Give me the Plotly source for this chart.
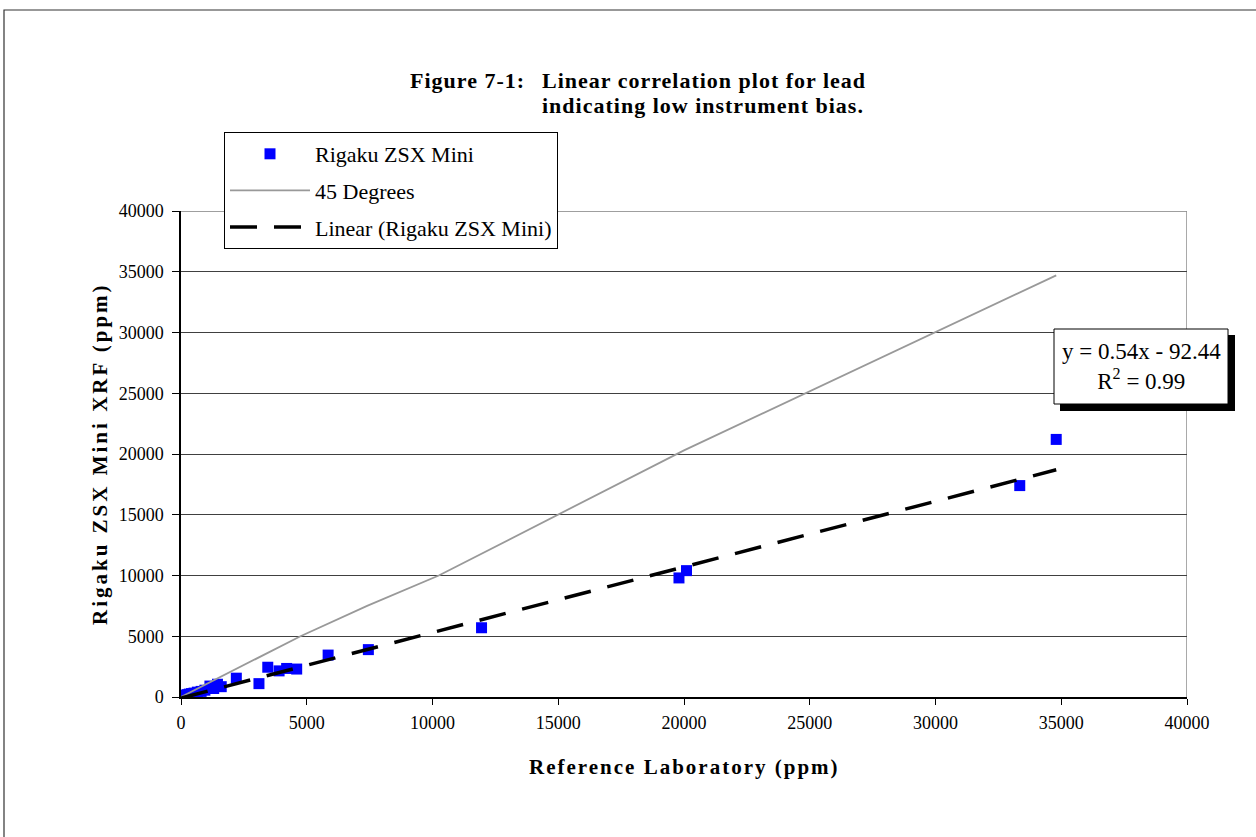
import plotly.graph_objects as go

# ---- data ----
ref_lab = [20, 60, 100, 150, 200, 260, 330, 420, 520, 650, 800, 950, 1150, 1300,
           1450, 1600, 2200, 3100, 3450, 3900, 4200, 4600, 5850, 7450, 11950,
           19800, 20100, 33350, 34800]
rigaku = [40, 90, 60, 130, 160, 190, 240, 280, 320, 400, 460, 560, 900, 700,
          1050, 850, 1550, 1100, 2450, 2150, 2350, 2300, 3450, 3900, 5700,
          9800, 10400, 17400, 21200]

deg45_x = [0, 4750, 7400, 10250, 20000, 34800]
deg45_y = [0, 5000, 7500, 10000, 20300, 34700]

slope = 0.54
intercept = -92.44
r_squared = 0.99

x_ticks = [0, 5000, 10000, 15000, 20000, 25000, 30000, 35000, 40000]
y_ticks = [0, 5000, 10000, 15000, 20000, 25000, 30000, 35000, 40000]

FONT = "Liberation Serif, Times New Roman, serif"
GRID = "#404040"

trend_x = [min(ref_lab), max(ref_lab)]
trend_y = [slope * v + intercept for v in trend_x]

fig = go.Figure()
fig.add_trace(go.Scatter(x=ref_lab, y=rigaku, mode="markers", name="Rigaku ZSX Mini",
                         legendgroup="a",
                         marker=dict(symbol="square", size=11, color="#0000FF")))
fig.add_trace(go.Scatter(x=deg45_x, y=deg45_y, mode="lines", name="45 Degrees",
                         legendgroup="b",
                         line=dict(color="#999999", width=1.8)))
fig.add_trace(go.Scatter(x=trend_x, y=trend_y, mode="lines", name="Linear (Rigaku ZSX Mini)",
                         legendgroup="c",
                         line=dict(color="black", width=3.5, dash="27px,17px")))

W, H = 1256, 837
L, R, T, B = 181, 69, 211, 140
pw, ph = W - L - R, H - T - B

def px(x):
    return (x - L) / pw

def py(y):
    return (H - B - y) / ph

def spaced(txt, sp):
    return f'<span style="letter-spacing:{sp}px">{txt}</span>'

fig.update_layout(
    width=W, height=H,
    margin=dict(l=L, r=R, t=T, b=B),
    paper_bgcolor="white", plot_bgcolor="white",
    font=dict(family=FONT, color="black", size=18),
    showlegend=True,
    legend=dict(x=px(224), y=py(132), xanchor="left", yanchor="top",
                bgcolor="white", bordercolor="black", borderwidth=1,
                font=dict(family=FONT, size=22, color="black"),
                itemwidth=80, tracegroupgap=5),
    xaxis=dict(range=[0, 40000], tickvals=x_ticks, ticktext=[str(v) for v in x_ticks],
               showgrid=False, zeroline=False, showline=True, linecolor="black", linewidth=1.5,
               ticks="outside", ticklen=6, tickcolor="black", ticklabelstandoff=3,
               tickfont=dict(family=FONT, size=18, color="black")),
    yaxis=dict(range=[0, 40000], tickvals=y_ticks, ticktext=[str(v) for v in y_ticks],
               showgrid=True, gridcolor=GRID, gridwidth=1, zeroline=False,
               showline=True, linecolor="black", linewidth=1.5,
               ticks="outside", ticklen=7, tickcolor="black", ticklabelstandoff=5,
               tickfont=dict(family=FONT, size=18, color="black")),
)

shapes = [
    # outer frame of the figure
    dict(type="rect", xref="paper", yref="paper", x0=px(4), x1=px(1300), y0=py(900), y1=py(10),
         line=dict(color="#333333", width=1.2), fillcolor="rgba(0,0,0,0)", layer="below"),
    # top and right borders of the plot area
    dict(type="line", xref="x", yref="y", x0=0, x1=40000, y0=40000, y1=40000,
         line=dict(color=GRID, width=1), layer="below"),
    dict(type="line", xref="x", yref="y", x0=40000, x1=40000, y0=0, y1=40000,
         line=dict(color="#8c8c8c", width=1.5), layer="below"),
    # equation box shadow + box
    dict(type="rect", xref="paper", yref="paper", x0=px(1060), x1=px(1235), y0=py(411), y1=py(335),
         line=dict(width=0), fillcolor="black", layer="above"),
    dict(type="rect", xref="paper", yref="paper", x0=px(1054), x1=px(1228), y0=py(404), y1=py(329),
         line=dict(color="black", width=1), fillcolor="white", layer="above"),
]
fig.update_layout(shapes=shapes)

ann = [
    dict(text="<b>" + spaced("Figure 7-1:", 1) + "</b>", xref="paper", yref="paper",
         x=px(527), y=py(80), xanchor="right", yanchor="middle", showarrow=False,
         font=dict(family=FONT, size=22)),
    dict(text="<b>" + spaced("Linear correlation plot for lead", 1) + "</b>",
         xref="paper", yref="paper", x=px(540), y=py(80), xanchor="left", yanchor="middle",
         showarrow=False, font=dict(family=FONT, size=22)),
    dict(text="<b>" + spaced("indicating low instrument bias.", 1) + "</b>",
         xref="paper", yref="paper", x=px(540), y=py(106), xanchor="left", yanchor="middle",
         showarrow=False, font=dict(family=FONT, size=22)),
    dict(text=f"y = {slope:.2f}x - {abs(intercept):.2f}<br>R<sup>2</sup> = {r_squared:.2f}",
         xref="paper", yref="paper", x=px(1141), y=py(366), xanchor="center", yanchor="middle",
         align="center", showarrow=False, font=dict(family=FONT, size=23)),
    dict(text="<b>" + spaced("Reference Laboratory (ppm)", 2) + "</b>", xref="paper", yref="paper",
         x=0.5, y=py(767), xanchor="center", yanchor="middle", showarrow=False,
         font=dict(family=FONT, size=21)),
    dict(text="<b>" + spaced("Rigaku ZSX Mini XRF (ppm)", 3) + "</b>", xref="paper", yref="paper",
         x=px(100), y=0.5, xanchor="center", yanchor="middle", textangle=-90, showarrow=False,
         font=dict(family=FONT, size=21)),
]
fig.update_layout(annotations=ann)

fig.write_html("out.html", config={"displayModeBar": False},
               post_script="document.body.style.margin='0px';")
